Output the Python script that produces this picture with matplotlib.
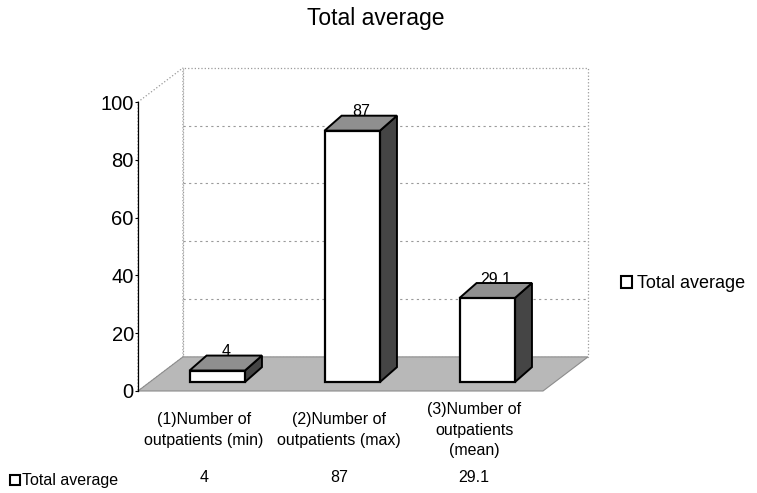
import matplotlib.pyplot as plt
import matplotlib.transforms as mtransforms
from matplotlib.patches import Polygon, Rectangle, Patch

plt.rcParams['font.family'] = ['Liberation Sans', 'DejaVu Sans']

# data
categories = ['(1)Number of\noutpatients (min)',
              '(2)Number of\noutpatients (max)',
              '(3)Number of\noutpatients\n(mean)']
values = [4, 87, 29.1]
value_labels = ['4', '87', '29.1']
series_name = 'Total average'
yticks = [0, 20, 40, 60, 80, 100]

# 3d look: depth of the floor in data units, bar placement inside it
DX, DY = 0.333, 11.8
F0 = 0.26          # bar front sits this far into the depth
BDX, BDY = 0.38, 0.44  # bar depth as part of floor depth
W = 0.41

fig = plt.figure(figsize=(7.57, 4.93), dpi=100)
ax = fig.add_axes([138 / 757, 102 / 493, 405 / 757, 289 / 493])
ax.set_xlim(0, 3)
ax.set_ylim(0, 100)

n = len(values)

# back wall + left wall
grid_c = '#9a9a9a'
ax.add_patch(Polygon([(DX, DY), (n + DX, DY), (n + DX, 100 + DY), (DX, 100 + DY)],
                     closed=True, facecolor='white', edgecolor=grid_c,
                     linestyle=':', lw=0.9, clip_on=False, zorder=1))
ax.add_patch(Polygon([(0, 0), (DX, DY), (DX, 100 + DY), (0, 100)],
                     closed=True, facecolor='white', edgecolor=grid_c,
                     linestyle=':', lw=0.9, clip_on=False, zorder=1))
for t in yticks[1:-1]:
    ax.plot([DX, n + DX], [t + DY, t + DY], color=grid_c, ls=(0, (2, 3)),
            lw=0.8, clip_on=False, zorder=1.5)

# floor
ax.add_patch(Polygon([(0, 0), (n, 0), (n + DX, DY), (DX, DY)], closed=True,
                     facecolor='#b8b8b8', edgecolor='#8c8c8c', lw=0.8,
                     clip_on=False, zorder=2))

# bars
for i, v in enumerate(values):
    x0 = i + 0.5 - W / 2 + F0 * DX
    y0 = F0 * DY
    bx, by = BDX * DX, BDY * DY
    ax.add_patch(Polygon([(x0 + W, y0), (x0 + W + bx, y0 + by),
                          (x0 + W + bx, y0 + v + by), (x0 + W, y0 + v)],
                         closed=True, facecolor='#454545', edgecolor='black',
                         lw=1.4, clip_on=False, zorder=3))
    ax.add_patch(Polygon([(x0, y0 + v), (x0 + W, y0 + v),
                          (x0 + W + bx, y0 + v + by), (x0 + bx, y0 + v + by)],
                         closed=True, facecolor='#8f8f8f', edgecolor='black',
                         lw=1.4, clip_on=False, zorder=3))
    ax.bar(x0, v, width=W, bottom=y0, align='edge', color='white',
           edgecolor='black', lw=1.6, clip_on=False, zorder=4)
    ax.text(x0 + W / 2 + bx / 2, y0 + v + by + 1.3, value_labels[i],
            ha='center', va='center', fontsize=11.5, zorder=5)

# axis
for s in ['top', 'right', 'bottom']:
    ax.spines[s].set_visible(False)
ax.spines['left'].set_linewidth(0.9)
ax.set_xticks([])
ax.set_yticks(yticks)
ax.tick_params(axis='y', labelsize=14.5, length=2, width=0.8, pad=1)

fig.text(0.497, 1 - 18 / 493, series_name, ha='center', va='center', fontsize=16.5)

# data table under the chart
tr = mtransforms.blended_transform_factory(ax.transData, fig.transFigure)
for i, (c, lab) in enumerate(zip(categories, value_labels)):
    ax.text(i + 0.49, 1 - 430 / 493, c, transform=tr, ha='center', va='center',
            fontsize=11.5, linespacing=1.45)
    ax.text(i + 0.49, 1 - 477 / 493, lab, transform=tr, ha='center',
            va='center', fontsize=11.5)
fig.add_artist(Rectangle((10 / 757, 1 - 485 / 493), 10 / 757, 10 / 493,
                         transform=fig.transFigure, facecolor='white',
                         edgecolor='black', lw=1.5))
fig.text(22 / 757, 1 - 480 / 493, series_name, ha='left', va='center', fontsize=11.5)

# legend on the right
handle = Patch(facecolor='white', edgecolor='black', lw=1.5, label=series_name)
fig.legend(handles=[handle], loc='center left',
           bbox_to_anchor=(605 / 757, 1 - 284 / 493), frameon=False,
           fontsize=13, handlelength=0.6, handleheight=0.6, handletextpad=0.25)

fig.savefig('out.png', dpi=100)
